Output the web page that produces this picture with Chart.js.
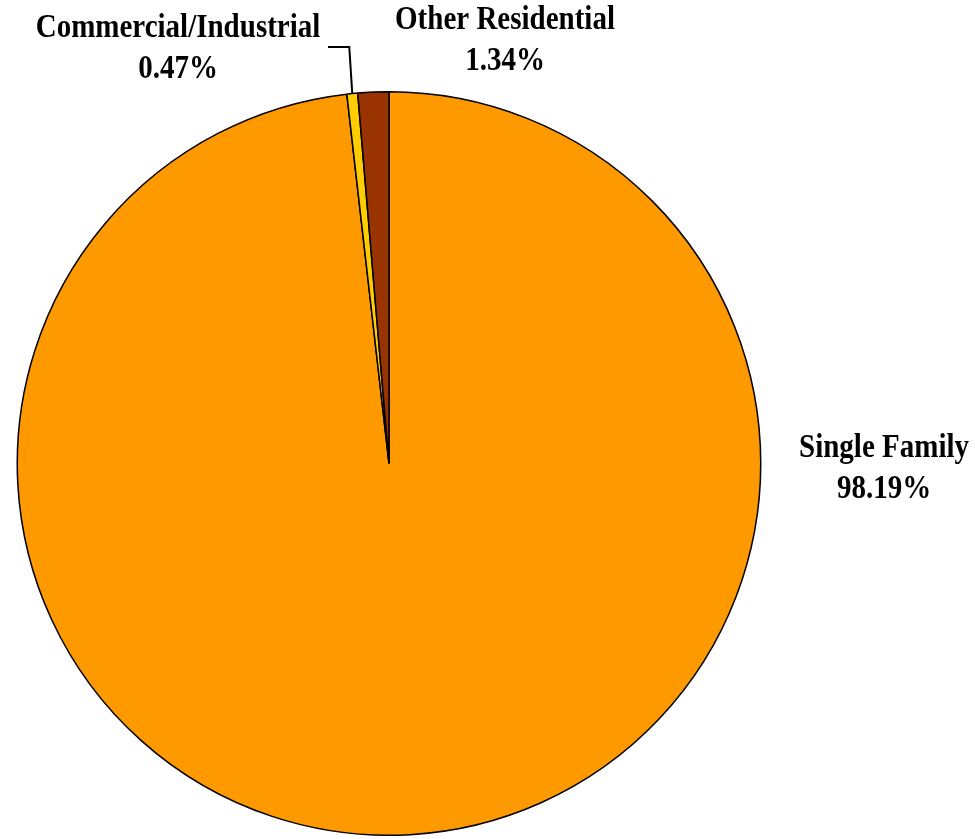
<!DOCTYPE html>
<html>
<head>
<meta charset="utf-8">
<script src="https://cdn.jsdelivr.net/npm/chart.js@4"></script>
<style>
  html, body { margin: 0; padding: 0; background: #fff; }
  #wrap { width: 975px; height: 839px; }
</style>
</head>
<body>
<div id="wrap"><canvas id="pieChart" width="975" height="839"></canvas></div>
<script>
const categories = ['Single Family', 'Commercial/Industrial', 'Other Residential'];
const shares = [98.19, 0.47, 1.34];
const sliceColors = ['#FF9900', '#FFCC00', '#993300'];

// where each label block sits (centre of first line), set by hand like the original
const labelSpots = [
    { x: 884, y: 448 },
    { x: 178, y: 28 },
    { x: 505, y: 20 }
];

// the original text is a little taller than plain Times
function tallText(ctx, text, x, y) {
    ctx.save();
    ctx.translate(x, y);
    ctx.scale(1, 1.15);
    ctx.fillText(text, 0, 0);
    ctx.restore();
}

const labelPlugin = {
    id: 'sliceLabels',
    afterDatasetsDraw(chart) {
        const ctx = chart.ctx;
        const arcs = chart.getDatasetMeta(0).data;
        ctx.save();
        ctx.fillStyle = '#000';
        ctx.font = 'bold 29px "Liberation Serif", "Times New Roman", serif';
        ctx.textAlign = 'center';
        ctx.textBaseline = 'middle';
        categories.forEach((name, i) => {
            const spot = labelSpots[i];
            tallText(ctx, name, spot.x, spot.y);
            tallText(ctx, shares[i].toFixed(2) + '%', spot.x, spot.y + 41);
        });

        // leader line for the thin commercial slice
        const arc = arcs[1];
        const mid = (arc.startAngle + arc.endAngle) / 2;
        const ax = arc.x + Math.cos(mid) * arc.outerRadius;
        const ay = arc.y + Math.sin(mid) * arc.outerRadius;
        ctx.strokeStyle = '#000';
        ctx.lineWidth = 2;
        ctx.beginPath();
        ctx.moveTo(ax, ay);
        ctx.lineTo(ax - 3, 47);
        ctx.lineTo(328, 47);
        ctx.stroke();
        ctx.restore();
    }
};

new Chart(document.getElementById('pieChart'), {
    type: 'pie',
    data: {
        labels: categories,
        datasets: [{
            data: shares,
            backgroundColor: sliceColors,
            borderColor: '#000',
            borderWidth: 1.5
        }]
    },
    options: {
        responsive: false,
        animation: false,
        layout: {
            padding: { left: 16, right: 213, top: 91, bottom: 3 }
        },
        plugins: {
            legend: { display: false },
            tooltip: { enabled: false }
        }
    },
    plugins: [labelPlugin]
});
</script>
</body>
</html>
